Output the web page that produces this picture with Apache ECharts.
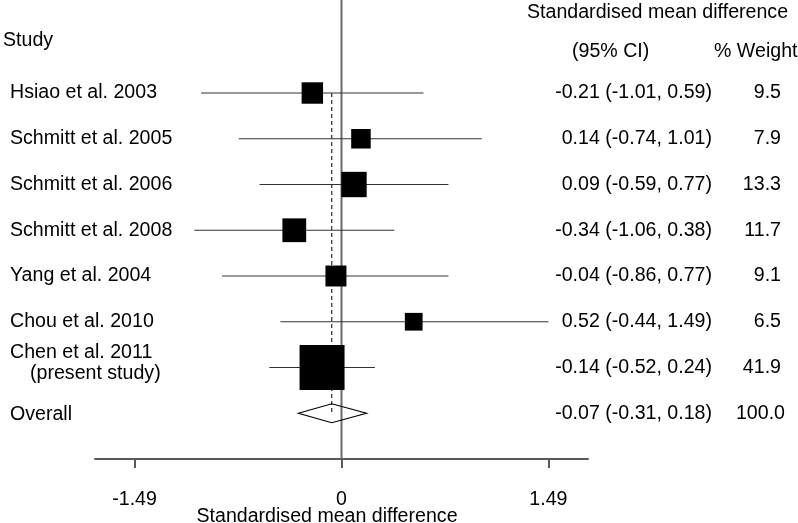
<!DOCTYPE html>
<html>
<head>
<meta charset="utf-8">
<script src="https://cdn.jsdelivr.net/npm/echarts@6/dist/echarts.min.js"></script>
<style>
html,body{margin:0;padding:0;background:#fff;}
#c{width:798px;height:523px;}
</style>
</head>
<body>
<div id="c"></div>
<script>
// ---- data ----
var studies = ["Hsiao et al. 2003", "Schmitt et al. 2005", "Schmitt et al. 2006", "Schmitt et al. 2008", "Yang et al. 2004", "Chou et al. 2010", "Chen et al. 2011"];
var studyNotes = ["", "", "", "", "", "", "(present study)"];
var estimates = [-0.21, 0.14, 0.09, -0.34, -0.04, 0.52, -0.14];
var lowerCI = [-1.01, -0.74, -0.59, -1.06, -0.86, -0.44, -0.52];
var upperCI = [0.59, 1.01, 0.77, 0.38, 0.77, 1.49, 0.24];
var weights = [9.5, 7.9, 13.3, 11.7, 9.1, 6.5, 41.9];
var overallLabel = "Overall";
var overallEst = -0.07, overallLo = -0.31, overallHi = 0.18, overallWeight = 100.0;
var tickValues = [-1.49, 0, 1.49];
var tickLabels = ["-1.49", "0", "1.49"];
var xTitle = "Standardised mean difference";

var FONT = '"Liberation Sans", Arial, sans-serif';
var FS = 19.6;
var overallRow = studies.length;

function ciText(e, l, h) { return e.toFixed(2) + " (" + l.toFixed(2) + ", " + h.toFixed(2) + ")"; }

var studyData = studies.map(function (s, i) { return [estimates[i], i, lowerCI[i], upperCI[i], weights[i]]; });

var chart = echarts.init(document.getElementById('c'), null, { renderer: 'canvas' });

var option = {
  animation: false,
  backgroundColor: '#fff',
  grid: { left: 95, width: 493, top: 0, height: 459 },
  xAxis: {
    type: 'value', min: -1.775, max: 1.775,
    splitLine: { show: false },
    axisLine: { show: true, onZero: false, lineStyle: { color: '#5a5a5a', width: 2 } },
    axisTick: { show: true, length: 9, inside: false, customValues: tickValues, lineStyle: { color: '#5a5a5a', width: 2 } },
    axisLabel: {
      show: true, customValues: tickValues, margin: 31,
      color: '#000', fontFamily: FONT, fontSize: FS,
      formatter: function (v) { var k = tickValues.indexOf(v); return k >= 0 ? tickLabels[k] : ''; }
    }
  },
  yAxis: {
    type: 'value', inverse: true, min: -2.033, max: 8,
    show: false, splitLine: { show: false }
  },
  graphic: [
    { type: 'text', left: 527, top: 3, style: { text: "Standardised mean difference", font: FS + 'px ' + FONT, fill: '#000' } },
    { type: 'text', left: 572, top: 42, style: { text: "(95% CI)", font: FS + 'px ' + FONT, fill: '#000' } },
    { type: 'text', left: 714, top: 42, style: { text: "% Weight", font: FS + 'px ' + FONT, fill: '#000' } },
    { type: 'text', left: 3, top: 31, style: { text: "Study", font: FS + 'px ' + FONT, fill: '#000' } },
    { type: 'text', x: 327, y: 517, style: { text: xTitle, font: FS + 'px ' + FONT, fill: '#000', align: 'center', verticalAlign: 'middle' } }
  ],
  series: [
    {
      type: 'line', data: [[0, -2.033], [0, 8]], symbol: 'none', silent: true,
      lineStyle: { color: '#6a6a6a', width: 2 }, z: 1
    },
    {
      type: 'line', data: [[overallEst, 0], [overallEst, overallRow]], symbol: 'none', silent: true,
      lineStyle: { color: '#000', width: 1, type: [4, 3] }, z: 2
    },
    {
      type: 'custom', z: 3,
      data: studyData,
      encode: { x: 0, y: 1 },
      renderItem: function (params, api) {
        var i = params.dataIndex;
        var c = api.coord([api.value(0), api.value(1)]);
        var l = api.coord([api.value(2), api.value(1)]);
        var h = api.coord([api.value(3), api.value(1)]);
        var side = 6.95 * Math.sqrt(api.value(4));
        var children = [
          { type: 'line', shape: { x1: l[0], y1: l[1], x2: h[0], y2: h[1] }, style: { stroke: '#333', lineWidth: 1.2 } },
          { type: 'rect', shape: { x: c[0] - side / 2, y: c[1] - side / 2, width: side, height: side }, style: { fill: '#000' } },
          { type: 'text', x: 10, y: c[1] - (studyNotes[i] ? 15 : 0), style: { text: studies[i], font: FS + 'px ' + FONT, fill: '#000', verticalAlign: 'middle' } },
          { type: 'text', x: 712, y: c[1], style: { text: ciText(estimates[i], lowerCI[i], upperCI[i]), font: FS + 'px ' + FONT, fill: '#000', align: 'right', verticalAlign: 'middle' } },
          { type: 'text', x: 781, y: c[1], style: { text: weights[i].toFixed(1), font: FS + 'px ' + FONT, fill: '#000', align: 'right', verticalAlign: 'middle' } }
        ];
        if (studyNotes[i]) {
          children.push({ type: 'text', x: 30, y: c[1] + 6, style: { text: studyNotes[i], font: FS + 'px ' + FONT, fill: '#000', verticalAlign: 'middle' } });
        }
        return { type: 'group', children: children };
      }
    },
    {
      type: 'custom', z: 4,
      data: [[overallEst, overallRow, overallLo, overallHi, overallWeight]],
      encode: { x: 0, y: 1 },
      renderItem: function (params, api) {
        var c = api.coord([api.value(0), api.value(1)]);
        var l = api.coord([api.value(2), api.value(1)]);
        var h = api.coord([api.value(3), api.value(1)]);
        var hh = 9.5;
        return {
          type: 'group', children: [
            { type: 'polygon', shape: { points: [[l[0], c[1]], [c[0], c[1] - hh], [h[0], c[1]], [c[0], c[1] + hh]] }, style: { fill: 'rgba(255,255,255,0)', stroke: '#000', lineWidth: 1.2 } },
            { type: 'text', x: 10, y: c[1] + 1, style: { text: overallLabel, font: FS + 'px ' + FONT, fill: '#000', verticalAlign: 'middle' } },
            { type: 'text', x: 712, y: c[1], style: { text: ciText(overallEst, overallLo, overallHi), font: FS + 'px ' + FONT, fill: '#000', align: 'right', verticalAlign: 'middle' } },
            { type: 'text', x: 785, y: c[1], style: { text: api.value(4).toFixed(1), font: FS + 'px ' + FONT, fill: '#000', align: 'right', verticalAlign: 'middle' } }
          ]
        };
      }
    }
  ]
};
chart.setOption(option);
</script>
</body>
</html>
